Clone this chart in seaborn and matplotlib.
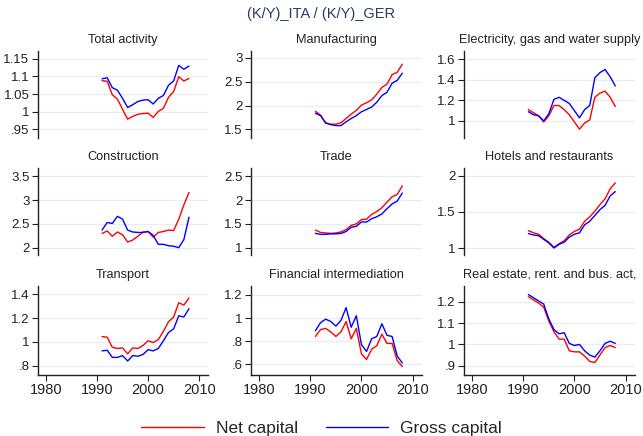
import numpy as np
import pandas as pd
import seaborn as sns
import matplotlib.pyplot as plt
from matplotlib.lines import Line2D
from matplotlib.ticker import FuncFormatter

years = list(range(1991, 2009))

sectors = ['Total activity', 'Manufacturing', 'Electricity, gas and water supply',
           'Construction', 'Trade', 'Hotels and restaurants',
           'Transport', 'Financial intermediation', 'Real estate, rent. and bus. act,']

net_total = [1.088, 1.086, 1.048, 1.036, 1.007, 0.979, 0.987, 0.993, 0.995, 0.996, 0.984, 1.001, 1.010, 1.041, 1.057, 1.099, 1.087, 1.094]
gross_total = [1.093, 1.096, 1.068, 1.061, 1.038, 1.012, 1.020, 1.029, 1.033, 1.034, 1.022, 1.038, 1.046, 1.075, 1.087, 1.131, 1.120, 1.129]

net_manuf = [1.88, 1.80, 1.63, 1.61, 1.61, 1.64, 1.73, 1.82, 1.90, 2.01, 2.06, 2.12, 2.24, 2.38, 2.45, 2.65, 2.70, 2.87]
gross_manuf = [1.84, 1.79, 1.64, 1.60, 1.58, 1.58, 1.66, 1.73, 1.79, 1.87, 1.92, 1.97, 2.07, 2.21, 2.28, 2.47, 2.53, 2.68]

net_elec = [1.11, 1.08, 1.05, 0.99, 1.05, 1.15, 1.15, 1.11, 1.06, 0.99, 0.92, 0.98, 1.01, 1.23, 1.27, 1.29, 1.23, 1.14]
gross_elec = [1.09, 1.06, 1.05, 1.00, 1.07, 1.21, 1.23, 1.20, 1.17, 1.10, 1.03, 1.11, 1.15, 1.42, 1.47, 1.50, 1.43, 1.34]

net_constr = [2.30, 2.35, 2.24, 2.33, 2.27, 2.12, 2.16, 2.24, 2.33, 2.34, 2.22, 2.32, 2.34, 2.37, 2.36, 2.60, 2.90, 3.16]
gross_constr = [2.37, 2.53, 2.51, 2.66, 2.60, 2.37, 2.33, 2.32, 2.32, 2.34, 2.26, 2.07, 2.07, 2.04, 2.03, 2.00, 2.17, 2.64]

net_trade = [1.37, 1.32, 1.31, 1.30, 1.31, 1.33, 1.38, 1.47, 1.50, 1.59, 1.60, 1.70, 1.76, 1.84, 1.96, 2.07, 2.12, 2.30]
gross_trade = [1.30, 1.28, 1.28, 1.29, 1.29, 1.30, 1.34, 1.43, 1.45, 1.54, 1.54, 1.61, 1.65, 1.71, 1.82, 1.92, 1.98, 2.15]

net_hotel = [1.24, 1.21, 1.19, 1.13, 1.08, 1.01, 1.06, 1.10, 1.18, 1.23, 1.26, 1.37, 1.43, 1.51, 1.60, 1.68, 1.82, 1.90]
gross_hotel = [1.20, 1.18, 1.17, 1.12, 1.07, 1.00, 1.05, 1.08, 1.15, 1.19, 1.21, 1.32, 1.37, 1.45, 1.53, 1.59, 1.72, 1.78]

net_transp = [1.045, 1.04, 0.955, 0.945, 0.95, 0.90, 0.95, 0.945, 0.97, 1.01, 0.995, 1.02, 1.09, 1.17, 1.21, 1.33, 1.31, 1.37]
gross_transp = [0.925, 0.93, 0.87, 0.87, 0.885, 0.84, 0.885, 0.88, 0.895, 0.935, 0.925, 0.945, 1.01, 1.08, 1.11, 1.22, 1.21, 1.28]

net_fin = [0.84, 0.90, 0.91, 0.88, 0.84, 0.88, 0.97, 0.82, 0.91, 0.69, 0.64, 0.73, 0.76, 0.86, 0.78, 0.78, 0.63, 0.58]
gross_fin = [0.89, 0.96, 0.99, 0.97, 0.93, 0.98, 1.09, 0.92, 1.02, 0.77, 0.71, 0.82, 0.84, 0.95, 0.85, 0.84, 0.67, 0.61]

net_real = [1.225, 1.21, 1.195, 1.175, 1.11, 1.06, 1.025, 1.025, 0.97, 0.965, 0.965, 0.945, 0.92, 0.915, 0.95, 0.985, 0.995, 0.985]
gross_real = [1.235, 1.22, 1.205, 1.19, 1.12, 1.07, 1.05, 1.055, 1.005, 0.995, 1.0, 0.97, 0.95, 0.94, 0.97, 1.005, 1.015, 1.005]

net_all = [net_total, net_manuf, net_elec, net_constr, net_trade, net_hotel, net_transp, net_fin, net_real]
gross_all = [gross_total, gross_manuf, gross_elec, gross_constr, gross_trade, gross_hotel, gross_transp, gross_fin, gross_real]

yticks = [[0.95, 1, 1.05, 1.1, 1.15], [1.5, 2, 2.5, 3], [1, 1.2, 1.4, 1.6],
          [2, 2.5, 3, 3.5], [1, 1.5, 2, 2.5], [1, 1.5, 2],
          [0.8, 1, 1.2, 1.4], [0.6, 0.8, 1, 1.2], [0.9, 1, 1.1, 1.2]]
ylims = [(0.926, 1.1715), (1.32, 3.146), (0.834, 1.68),
         (1.845, 3.676), (0.845, 2.676), (0.903, 2.106),
         (0.722, 1.47), (0.506, 1.277), (0.856, 1.275)]

rows = []
for s, n, g in zip(sectors, net_all, gross_all):
    for y, a, b in zip(years, n, g):
        rows.append((s, y, 'Net capital', a))
        rows.append((s, y, 'Gross capital', b))
df = pd.DataFrame(rows, columns=['sector', 'year', 'measure', 'ratio'])

sns.set_style('white')
plt.rcParams['font.family'] = ['Liberation Sans', 'DejaVu Sans']

palette = {'Net capital': '#ff0000', 'Gross capital': '#0000ff'}


def stata_fmt(v, pos):
    s = ('%g' % round(v, 4))
    if s.startswith('0.'):
        s = s[1:]
    return s


fig = plt.figure(figsize=(6.43, 4.36), dpi=100)
lefts = [0.0586, 0.3904, 0.7216]
bottoms = [0.6835, 0.4151, 0.1399]
heights = [0.1995, 0.1995, 0.204]
width = 0.2655

for i, s in enumerate(sectors):
    r, c = divmod(i, 3)
    ax = fig.add_axes([lefts[c], bottoms[r], width, heights[r]])
    sns.lineplot(data=df[df['sector'] == s], x='year', y='ratio', hue='measure',
                 palette=palette, linewidth=1.0, legend=False, ax=ax)
    ax.set_xlim(1978.4, 2011.8)
    ax.set_ylim(*ylims[i])
    ax.set_yticks(yticks[i])
    ax.yaxis.set_major_formatter(FuncFormatter(stata_fmt))
    ax.grid(axis='y', color='#e6eef0', linewidth=0.9)
    ax.set_axisbelow(True)
    ax.set_xlabel('')
    ax.set_ylabel('')
    ax.set_title(s, fontsize=9.2, color='#222222', pad=6)
    for sp in ['top', 'right']:
        ax.spines[sp].set_visible(False)
    ax.spines['left'].set_color('#222222')
    ax.spines['left'].set_linewidth(1.0)
    ax.tick_params(axis='y', direction='out', length=4, width=0.8, labelsize=9.5,
                   colors='#222222', left=True, pad=2)
    if r < 2:
        ax.spines['bottom'].set_visible(False)
        ax.set_xticks([])
    else:
        ax.spines['bottom'].set_color('#222222')
        ax.spines['bottom'].set_linewidth(1.0)
        ax.set_xticks([1980, 1990, 2000, 2010])
        ax.tick_params(axis='x', direction='out', length=4, width=0.8, labelsize=10.5,
                       colors='#222222', bottom=True, pad=2)

fig.text(0.5, 0.968, '(K/Y)_ITA / (K/Y)_GER', ha='center', va='center',
         fontsize=10.5, color='#2b3c5e')

handles = [Line2D([], [], color='#ff0000', lw=1.0), Line2D([], [], color='#0000ff', lw=1.0)]
fig.legend(handles, ['Net capital', 'Gross capital'], loc='center', bbox_to_anchor=(0.5, 0.018),
           ncol=2, frameon=False, fontsize=12.5, handlelength=3.6, columnspacing=1.6,
           handletextpad=0.7)

fig.savefig('out.png', dpi=100)
